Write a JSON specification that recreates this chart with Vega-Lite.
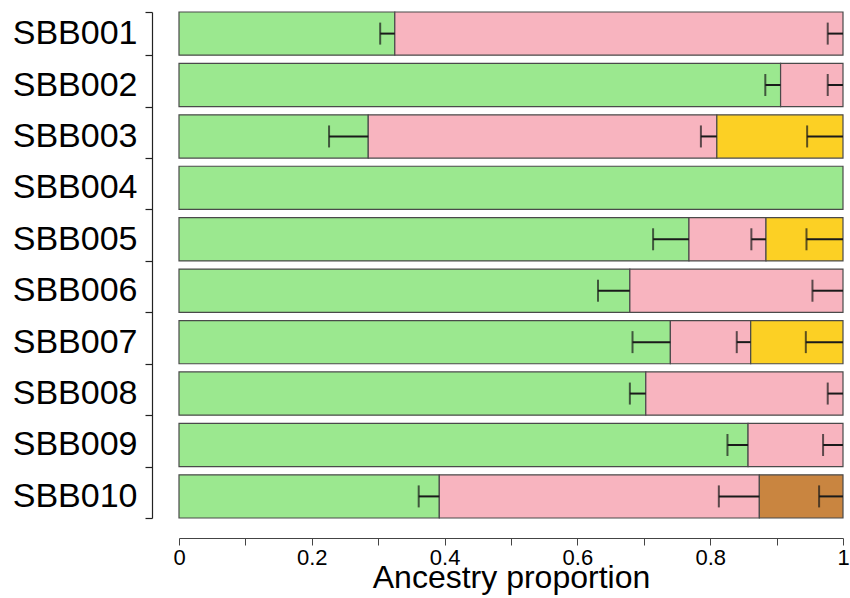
{
  "$schema": "https://vega.github.io/schema/vega-lite/v6.json",
  "autosize": "none",
  "width": 664,
  "height": 506,
  "padding": {"left": 179, "top": 12, "right": 7, "bottom": 80},
  "background": "white",
  "config": {"view": {"stroke": null}, "font": "Liberation Sans"},
  "data": {"values": [
    {"sample": "SBB001", "component": "A", "start": 0, "end": 0.325, "lo": 0.303},
    {"sample": "SBB001", "component": "B", "start": 0.325, "end": 1, "lo": 0.977},
    {"sample": "SBB002", "component": "A", "start": 0, "end": 0.906, "lo": 0.883},
    {"sample": "SBB002", "component": "B", "start": 0.906, "end": 1, "lo": 0.977},
    {"sample": "SBB003", "component": "A", "start": 0, "end": 0.285, "lo": 0.226},
    {"sample": "SBB003", "component": "B", "start": 0.285, "end": 0.81, "lo": 0.786},
    {"sample": "SBB003", "component": "C", "start": 0.81, "end": 1, "lo": 0.946},
    {"sample": "SBB004", "component": "A", "start": 0, "end": 1, "lo": null},
    {"sample": "SBB005", "component": "A", "start": 0, "end": 0.768, "lo": 0.714},
    {"sample": "SBB005", "component": "B", "start": 0.768, "end": 0.884, "lo": 0.862},
    {"sample": "SBB005", "component": "C", "start": 0.884, "end": 1, "lo": 0.945},
    {"sample": "SBB006", "component": "A", "start": 0, "end": 0.679, "lo": 0.631},
    {"sample": "SBB006", "component": "B", "start": 0.679, "end": 1, "lo": 0.954},
    {"sample": "SBB007", "component": "A", "start": 0, "end": 0.74, "lo": 0.683},
    {"sample": "SBB007", "component": "B", "start": 0.74, "end": 0.861, "lo": 0.84},
    {"sample": "SBB007", "component": "C", "start": 0.861, "end": 1, "lo": 0.944},
    {"sample": "SBB008", "component": "A", "start": 0, "end": 0.703, "lo": 0.679},
    {"sample": "SBB008", "component": "B", "start": 0.703, "end": 1, "lo": 0.977},
    {"sample": "SBB009", "component": "A", "start": 0, "end": 0.857, "lo": 0.826},
    {"sample": "SBB009", "component": "B", "start": 0.857, "end": 1, "lo": 0.97},
    {"sample": "SBB010", "component": "A", "start": 0, "end": 0.392, "lo": 0.361},
    {"sample": "SBB010", "component": "B", "start": 0.392, "end": 0.874, "lo": 0.813},
    {"sample": "SBB010", "component": "D", "start": 0.874, "end": 1, "lo": 0.964}
  ]},
  "encoding": {
    "y": {
      "field": "sample", "type": "nominal",
      "scale": {"paddingInner": 0.16, "paddingOuter": 0},
      "axis": {
        "title": null, "offset": 27, "tickSize": 7, "labelPadding": 8,
        "labelFontSize": 34, "labelColor": "black", "domainColor": "#222",
        "tickColor": "#222", "tickBand": "extent", "domainWidth": 1.2, "tickWidth": 1.2
      }
    }
  },
  "layer": [
    {
      "mark": {"type": "bar", "stroke": "#4a4a4a", "strokeWidth": 1.2},
      "encoding": {
        "x": {
          "field": "start", "type": "quantitative",
          "scale": {"domain": [0, 1], "nice": false},
          "axis": {
            "title": "Ancestry proportion", "titleFontSize": 32, "titleFontWeight": "normal",
            "titleColor": "black", "titlePadding": -6, "offset": 20,
            "values": [0, 0.1, 0.2, 0.3, 0.4, 0.5, 0.6, 0.7, 0.8, 0.9, 1],
            "format": ".1~f",
            "labelExpr": "round(datum.value*10) % 2 == 0 ? datum.label : ''",
            "labelFontSize": 22, "labelColor": "black", "labelPadding": 2,
            "tickSize": 7, "tickColor": "#444", "domainColor": "#444",
            "grid": false, "labelFlush": false, "labelBound": false
          }
        },
        "x2": {"field": "end"},
        "color": {
          "field": "component", "type": "nominal", "legend": null,
          "scale": {"domain": ["A", "B", "C", "D"], "range": ["#9BE88F", "#F8B4BF", "#FCD024", "#C98540"]}
        }
      }
    },
    {
      "transform": [{"filter": "isValid(datum.lo)"}],
      "mark": {"type": "rule", "color": "#1a1a1a", "strokeWidth": 2},
      "encoding": {
        "x": {"field": "lo", "type": "quantitative"},
        "x2": {"field": "end"}
      }
    },
    {
      "transform": [{"filter": "isValid(datum.lo)"}],
      "mark": {"type": "tick", "orient": "vertical", "color": "#1a1a1a", "thickness": 2, "size": 22},
      "encoding": {
        "x": {"field": "lo", "type": "quantitative"}
      }
    }
  ]
}
